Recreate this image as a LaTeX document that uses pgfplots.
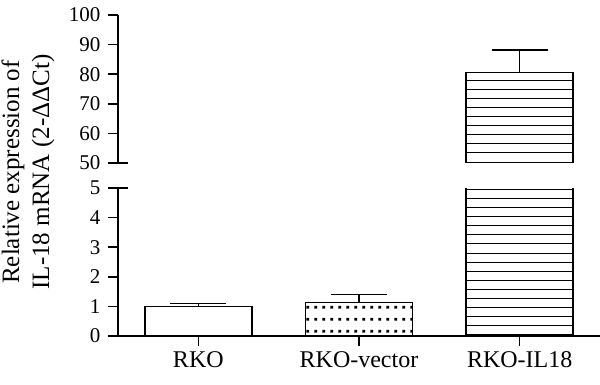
\documentclass[border=0pt]{standalone}
\usepackage{pgfplots}
\pgfplotsset{compat=1.18}
\usepackage{fontspec}
\setmainfont{Liberation Serif}
\usetikzlibrary{patterns}

\pgfdeclarepatternformonly{hlnine}{\pgfpoint{-1pt}{-1pt}}{\pgfpoint{10pt}{10pt}}{\pgfpoint{9.1pt}{9.1pt}}{%
  \pgfsetlinewidth{1pt}%
  \pgfpathmoveto{\pgfpoint{0pt}{4.5pt}}%
  \pgfpathlineto{\pgfpoint{9.2pt}{4.5pt}}%
  \pgfusepath{stroke}}
\pgfdeclarepatternformonly{sqdots}{\pgfpointorigin}{\pgfpoint{7.8pt}{12pt}}{\pgfpoint{7.8pt}{12pt}}{%
  \pgfpathrectangle{\pgfpoint{2.5pt}{4.6pt}}{\pgfpoint{2.8pt}{2.8pt}}%
  \pgfusepath{fill}}

\pgfplotsset{
  brk/.style={
    scale only axis, width=482pt, height=148pt,
    xmin=-0.5, xmax=2.5,
    yticklabel style={font=\fontsize{21}{24}\selectfont, xshift=-4pt},
    xticklabel style={font=\fontsize{24}{28}\selectfont, yshift=-2pt},
    /pgf/number format/assume math mode=true,
  },
  fin/.style={
    axis line style={-, line width=1.5pt},
    x axis line style={-}, y axis line style={-},
    tick align=outside, major tick length=10pt,
    tick style={line width=1.5pt, black},
    extra y tick style={tick align=center, major tick length=20pt},
  },
  bstyle/.style={ybar, bar width=107pt, bar shift=0pt, draw=black, line width=1.5pt,
    error bars/y dir=plus, error bars/y explicit,
    error bars/error bar style={line width=1.5pt, black},
    error bars/error mark options={rotate=90, mark size=28pt, line width=1.5pt, black}},
}

\begin{document}
\begin{tikzpicture}
\useasboundingbox (-118pt,-49pt) rectangle (482pt,336pt);
% lower part
\begin{axis}[brk, at={(0,0)}, anchor=south west,
  ymin=0, ymax=5,
  axis x line=bottom, axis y line=left,
  xtick={0,1,2}, xticklabels={RKO,RKO-vector,RKO-IL18},
  ytick={0,1,2,3,4}, extra y ticks={5},
  fin,
]
\addplot[bstyle, fill=white] coordinates {(0,1.0) +- (0,0.09)};
\addplot[bstyle, pattern=sqdots] coordinates {(1,1.14) +- (0,0.26)};
\addplot[ybar, bar width=107pt, bar shift=0pt, draw=black, line width=1.5pt, pattern=hlnine] coordinates {(2,80.6)};
\end{axis}
% upper part
\begin{axis}[brk, at={(0,173pt)}, anchor=south west,
  ymin=50, ymax=100,
  axis x line=none, axis y line=left,
  ytick={60,70,80,90,100}, extra y ticks={50},
  fin,
]
\addplot[bstyle, pattern=hlnine] coordinates {(2,80.6) +- (0,7.6)};
\end{axis}
\node[rotate=90, align=center, font=\fontsize{25}{30}\selectfont] at (-90pt,164pt)
  {Relative expression of\\IL-18 mRNA (2-ΔΔCt)};
\end{tikzpicture}
\end{document}
